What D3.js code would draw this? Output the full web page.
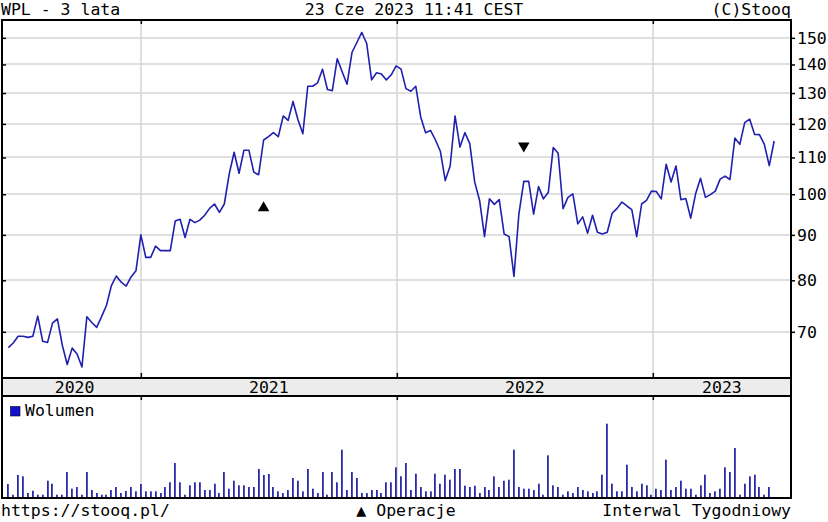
<!DOCTYPE html>
<html>
<head>
<meta charset="utf-8">
<script src="https://cdn.jsdelivr.net/npm/d3@7"></script>
<style>
    body { margin: 0; background: #fff; }
    svg { display: block; font-family: 'DejaVu Sans Mono', monospace; font-size: 16.5px; }
</style>
</head>
<body>
<div id="chart"></div>
<script>
var firstWeek = '2020-06-26',
    lastWeek = '2023-06-23';

// weekly close, PLN
var prices = [
    67.2, 68.0, 69.2, 69.2, 69.0, 69.2, 72.9, 68.3, 68.1, 71.6,
    72.4, 67.6, 64.3, 67.1, 66.1, 63.9, 72.8, 71.7, 70.8, 72.8,
    75.0, 78.9, 80.9, 79.6, 78.8, 80.7, 82.0, 90.0, 84.9, 84.9,
    87.4, 86.4, 86.4, 86.4, 93.3, 93.7, 89.4, 93.7, 92.9, 93.5,
    94.7, 96.4, 97.5, 95.4, 97.5, 105.4, 111.5, 105.6, 112.1, 112.1,
    105.9, 105.2, 115.1, 116.1, 117.3, 116.1, 122.5, 121.1, 127.2, 121.3,
    117.0, 132.3, 132.3, 133.5, 138.3, 131.2, 130.8, 142.1, 137.4, 133.0,
    144.4, 148.2, 152.1, 147.8, 134.5, 137.0, 136.6, 134.5, 136.3, 139.5,
    138.3, 131.5, 130.6, 132.3, 122.2, 117.3, 118.0, 115.1, 111.8, 103.6,
    107.6, 122.5, 113.0, 117.3, 114.0, 103.2, 98.4, 89.6, 98.8, 97.4,
    98.6, 90.2, 89.6, 80.8, 95.0, 103.4, 103.4, 95.0, 102.0, 98.8,
    100.5, 112.9, 111.2, 96.3, 99.2, 100.1, 92.6, 94.3, 90.4, 94.7,
    90.6, 90.2, 90.6, 95.2, 96.4, 98.0, 97.0, 96.1, 89.6, 97.5,
    98.4, 100.8, 100.7, 98.8, 108.1, 103.2, 107.6, 98.6, 98.9, 94.0,
    100.1, 104.2, 99.2, 99.9, 100.8, 104.0, 104.8, 103.9, 115.7, 113.8,
    120.4, 121.5, 116.8, 116.7, 113.8, 107.7, 114.8
];

// weekly volume, thousands (last week not shown yet)
var volumes = [
    13, 2.3, 22, 20.7, 4, 6.3, 2.3, 2.3, 16.3, 13.3,
    2.3, 2.3, 25, 8.3, 10, 2.3, 25, 7, 4, 2.3,
    2.3, 7, 10, 4, 6, 10, 5.7, 13, 5.7, 5.7,
    5.7, 4, 10, 14.7, 34, 14.7, 2.3, 11.7, 14.7, 14.7,
    7, 7, 13.3, 4, 25, 8.3, 16.3, 11.7, 11.7, 10,
    10, 28, 22, 23, 10, 5.7, 4, 7, 19, 16.3,
    5.7, 28, 8.3, 4, 25, 2.3, 25, 14.7, 47.3, 7,
    25, 19, 4, 4, 7, 7, 4, 14.7, 14.7, 29.7,
    20.7, 34, 7, 23.3, 10, 5.7, 5.7, 23.3, 13.3, 22.3,
    17.3, 28, 28, 11.3, 10, 11.3, 4, 10, 7, 20.7,
    10, 16.3, 17.3, 47.3, 10, 8.3, 8.3, 7, 13.3, 2.3,
    41.7, 11.7, 10, 2.3, 5.7, 4, 10, 7, 5.7, 4,
    5.7, 22.3, 73.3, 13.3, 5.7, 5.7, 32.3, 10, 5.7, 13.3,
    11.7, 2.3, 8.3, 7, 37.3, 7, 10, 16.3, 8.3, 8.3,
    2.3, 11.7, 22.3, 4, 5.7, 8.3, 29.7, 25, 49, 2.3,
    13.3, 20.7, 22.3, 10, 2.3, 10
];

var priceTicks = [70, 80, 90, 100, 110, 120, 130, 140, 150];
var yearLabels = ['2020', '2021', '2022', '2023'];
var opDates = ['2021-06-25', '2022-07-01'];
var opValues = [96.5, 113.4];
var opTypes = ['up', 'down'];

var headerLeft = 'WPL - 3 lata',
    headerMid = '23 Cze 2023 11:41 CEST',
    headerRight = '(C)Stooq',
    footerLeft = 'https://stooq.pl/',
    footerMid = '\u25B2 Operacje',
    footerRight = 'Interwal Tygodniowy',
    legendLabel = 'Wolumen';

var W = 828, H = 522,
    plotLeft = 2, plotRight = 791,
    plotTop = 20, bandTop = 378, bandBottom = 396, volBottom = 498;

var parse = d3.utcParse('%Y-%m-%d'),
    weeks = d3.utcFriday.range(parse(firstWeek), d3.utcDay.offset(parse(lastWeek), 1)),
    yearStarts = yearLabels.slice(1).map(function (y) { return parse(y + '-01-01'); });

var x = d3.scaleUtc()
    .domain([parse('2020-06-17'), parse('2023-07-17')])
    .range([plotLeft, plotRight]);

var y = d3.scaleLog()
    .domain([62.1, 157.1])
    .range([bandTop, plotTop]);

var vy = d3.scaleLinear()
    .domain([0, 100])
    .range([volBottom - 1, volBottom - 101]);

var svg = d3.select('#chart').append('svg')
    .attr('width', W)
    .attr('height', H);

svg.append('rect').attr('width', W).attr('height', H).attr('fill', '#fff');

// header / footer
svg.append('text').attr('x', 1).attr('y', 15).text(headerLeft);
svg.append('text').attr('x', 414).attr('y', 15).attr('text-anchor', 'middle').text(headerMid);
svg.append('text').attr('x', plotRight).attr('y', 15).attr('text-anchor', 'end').text(headerRight);
svg.append('text').attr('x', 1).attr('y', 516).text(footerLeft);
svg.append('text').attr('x', 406).attr('y', 516).attr('text-anchor', 'middle').text(footerMid);
svg.append('text').attr('x', plotRight).attr('y', 516).attr('text-anchor', 'end').text(footerRight);

// grid
var grid = svg.append('g').attr('stroke', '#d6d6d6').attr('stroke-width', 1.5);

grid.selectAll('.hg').data(priceTicks).enter().append('line')
    .attr('x1', plotLeft).attr('x2', plotRight)
    .attr('y1', function (d) { return Math.round(y(d)); })
    .attr('y2', function (d) { return Math.round(y(d)); });

grid.selectAll('.vg').data(yearStarts).enter().append('line')
    .attr('x1', function (d) { return Math.round(x(d)); })
    .attr('x2', function (d) { return Math.round(x(d)); })
    .attr('y1', plotTop).attr('y2', bandTop);

grid.selectAll('.vv').data(yearStarts).enter().append('line')
    .attr('x1', function (d) { return Math.round(x(d)); })
    .attr('x2', function (d) { return Math.round(x(d)); })
    .attr('y1', bandBottom).attr('y2', volBottom);

// year band
svg.append('rect')
    .attr('x', plotLeft).attr('y', bandTop)
    .attr('width', plotRight - plotLeft).attr('height', bandBottom - bandTop)
    .attr('fill', '#ececec');

svg.selectAll('.yl').data(yearLabels).enter().append('text')
    .attr('text-anchor', 'middle')
    .attr('y', 393)
    .attr('x', function (d) {
        var a = Math.max(x(parse(d + '-01-01')), x(weeks[0])),
            b = Math.min(x(parse((+d + 1) + '-01-01')), plotRight);
        return (a + b) / 2;
    })
    .text(function (d) { return d; });

// price line
var line = d3.line()
    .x(function (d, i) { return x(weeks[i]); })
    .y(function (d) { return y(d); });

svg.append('path')
    .datum(prices)
    .attr('fill', 'none')
    .attr('stroke', '#1f1fb0')
    .attr('stroke-width', 1.6)
    .attr('stroke-linejoin', 'round')
    .attr('d', line);

// operations
svg.selectAll('.op').data(opDates).enter().append('path')
    .attr('d', d3.symbol().type(d3.symbolTriangle).size(58))
    .attr('fill', '#000')
    .attr('transform', function (d, i) {
        return 'translate(' + x(parse(d)) + ',' + y(opValues[i]) + ')' + (opTypes[i] === 'down' ? ' rotate(180)' : '');
    });

// volume
svg.selectAll('.vol').data(volumes).enter().append('rect')
    .attr('x', function (d, i) { return Math.round(x(weeks[i])) - 1; })
    .attr('width', 1.8)
    .attr('y', function (d) { return vy(d); })
    .attr('height', function (d) { return vy(0) - vy(d); })
    .attr('fill', '#2a2aa8');

svg.append('rect')
    .attr('x', 10.5).attr('y', 406.5).attr('width', 9.5).attr('height', 9.5)
    .attr('fill', '#1010d0').attr('stroke', '#000').attr('stroke-width', 0.6);
svg.append('text').attr('x', 25).attr('y', 416).text(legendLabel);

// frames
var frames = svg.append('g').attr('fill', 'none').attr('stroke', '#000').attr('stroke-width', 2);
frames.append('rect').attr('x', plotLeft).attr('y', plotTop).attr('width', plotRight - plotLeft).attr('height', bandTop - plotTop);
frames.append('rect').attr('x', plotLeft).attr('y', bandTop).attr('width', plotRight - plotLeft).attr('height', bandBottom - bandTop);
frames.append('rect').attr('x', plotLeft).attr('y', bandBottom).attr('width', plotRight - plotLeft).attr('height', volBottom - bandBottom);

// axes
function style(g) {
    g.select('.domain').remove();
    g.selectAll('.tick line').attr('stroke', '#000').attr('stroke-width', 1.5);
    g.selectAll('.tick text').attr('fill', '#000').style('font-family', "'DejaVu Sans Mono', monospace").style('font-size', '16.5px');
}

svg.append('g')
    .attr('transform', 'translate(' + plotRight + ',0)')
    .call(d3.axisRight(y).tickValues(priceTicks).tickSize(4).tickPadding(2).tickFormat(d3.format('d')))
    .call(style);

svg.append('g')
    .attr('transform', 'translate(' + plotLeft + ',0)')
    .call(d3.axisRight(y).tickValues(priceTicks).tickSize(4).tickFormat(''))
    .call(style);

svg.append('g')
    .attr('transform', 'translate(0,' + plotTop + ')')
    .call(d3.axisBottom(x).tickValues(yearStarts).tickSize(4).tickFormat(''))
    .call(style);

svg.append('g')
    .attr('transform', 'translate(0,' + bandTop + ')')
    .call(d3.axisTop(x).tickValues(yearStarts).tickSize(5).tickFormat(''))
    .call(style);

svg.append('g')
    .attr('transform', 'translate(0,' + bandBottom + ')')
    .call(d3.axisBottom(x).tickValues(yearStarts).tickSize(4).tickFormat(''))
    .call(style);
</script>
</body>
</html>
